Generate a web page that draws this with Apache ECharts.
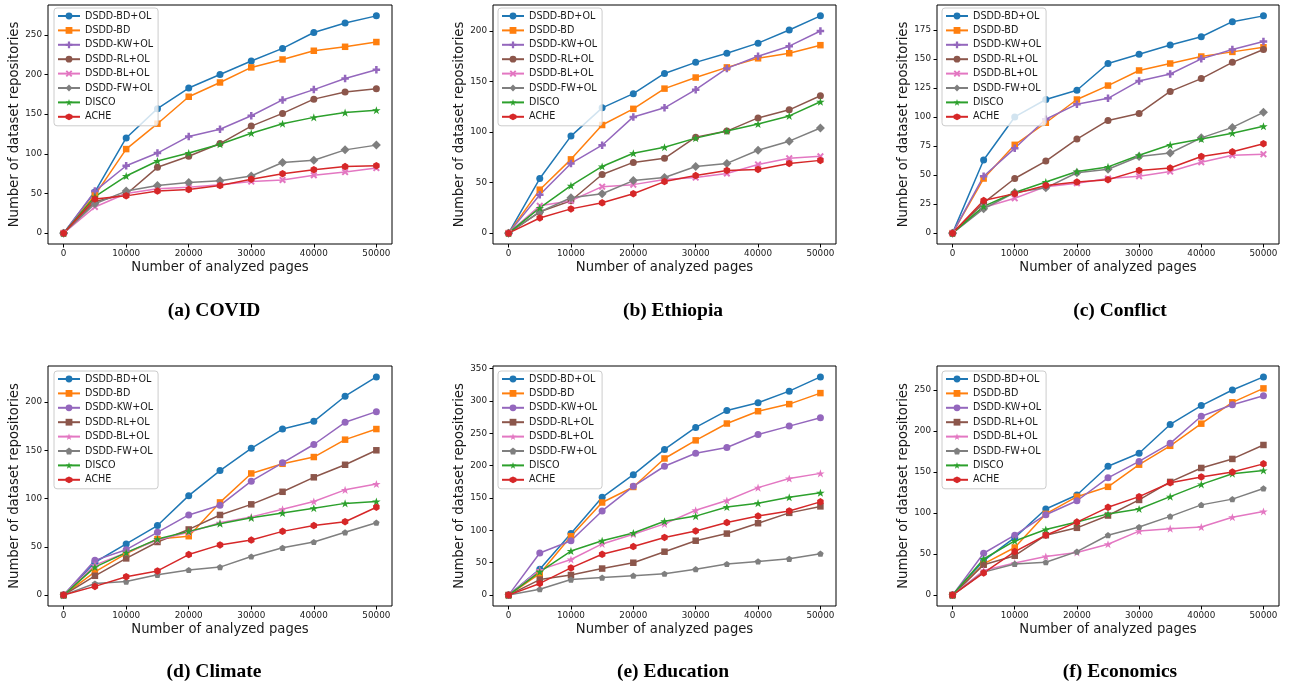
<!DOCTYPE html>
<html>
<head>
<meta charset="utf-8">
<script src="https://cdn.jsdelivr.net/npm/echarts@6/dist/echarts.min.js"></script>
<style>
html,body{margin:0;padding:0;background:#fff;}
#chart{width:1289px;height:689px;}
</style>
</head>
<body>
<div id="chart"></div>
<script>
// ---------- data ----------
const PAGES = [0, 5000, 10000, 15000, 20000, 25000, 30000, 35000, 40000, 45000, 50000];
const X_TICKS = [0, 10000, 20000, 30000, 40000, 50000];
const SERIES_NAMES = ['DSDD-BD+OL', 'DSDD-BD', 'DSDD-KW+OL', 'DSDD-RL+OL', 'DSDD-BL+OL', 'DSDD-FW+OL', 'DISCO', 'ACHE'];
const PANEL_TITLES = ['(a) COVID', '(b) Ethiopia', '(c) Conflict', '(d) Climate', '(e) Education', '(f) Economics'];
const X_NAME = 'Number of analyzed pages';
const Y_NAME = 'Number of dataset repositories';

// (a) COVID
const COVID_BD_OL = [0, 52, 120, 157, 183, 200, 217, 233, 253, 265, 274];
const COVID_BD    = [0, 48, 106, 138, 172, 190, 209, 219, 230, 235, 241];
const COVID_KW_OL = [0, 53, 85, 101, 122, 131, 148, 168, 181, 195, 206];
const COVID_RL_OL = [0, 40, 49, 83, 97, 113, 135, 151, 169, 178, 182];
const COVID_BL_OL = [0, 33, 50, 56, 58, 61, 65, 67, 73, 77, 82];
const COVID_FW_OL = [0, 37, 53, 60, 64, 66, 72, 89, 92, 105, 111];
const COVID_DISCO = [0, 46, 72, 91, 101, 112, 126, 138, 146, 152, 155];
const COVID_ACHE  = [0, 43, 47, 53, 55, 60, 68, 75, 80, 84, 85];
const COVID_Y_TICKS = [0, 50, 100, 150, 200, 250];

// (b) Ethiopia
const ETHIOPIA_BD_OL = [0, 54, 96, 124, 138, 158, 169, 178, 188, 201, 215];
const ETHIOPIA_BD    = [0, 43, 73, 107, 123, 143, 154, 164, 173, 178, 186];
const ETHIOPIA_KW_OL = [0, 38, 69, 87, 115, 124, 142, 163, 175, 185, 200];
const ETHIOPIA_RL_OL = [0, 21, 32, 58, 70, 74, 95, 101, 114, 122, 136];
const ETHIOPIA_BL_OL = [0, 27, 32, 46, 48, 53, 55, 59, 68, 74, 76];
const ETHIOPIA_FW_OL = [0, 21, 35, 39, 52, 55, 66, 69, 82, 91, 104];
const ETHIOPIA_DISCO = [0, 25, 47, 66, 79, 85, 94, 101, 108, 116, 130];
const ETHIOPIA_ACHE  = [0, 15, 24, 30, 39, 51, 57, 62, 63, 69, 72];
const ETHIOPIA_Y_TICKS = [0, 50, 100, 150, 200];

// (c) Conflict
const CONFLICT_BD_OL = [0, 63, 100, 115, 123, 146, 154, 162, 169, 182, 187];
const CONFLICT_BD    = [0, 47, 76, 95, 115, 127, 140, 146, 152, 156, 160];
const CONFLICT_KW_OL = [0, 49, 73, 98, 111, 116, 131, 137, 150, 158, 165];
const CONFLICT_RL_OL = [0, 26, 47, 62, 81, 97, 103, 122, 133, 147, 158];
const CONFLICT_BL_OL = [0, 22, 30, 40, 43, 47, 49, 53, 61, 67, 68];
const CONFLICT_FW_OL = [0, 21, 35, 39, 52, 55, 66, 69, 82, 91, 104];
const CONFLICT_DISCO = [0, 23, 35, 44, 53, 57, 67, 76, 81, 86, 92];
const CONFLICT_ACHE  = [0, 28, 34, 41, 44, 46, 54, 56, 66, 70, 77];
const CONFLICT_Y_TICKS = [0, 25, 50, 75, 100, 125, 150, 175];

// (d) Climate
const CLIMATE_BD_OL = [0, 34, 53, 72, 103, 129, 152, 172, 180, 206, 226];
const CLIMATE_BD    = [0, 24, 43, 58, 61, 96, 126, 136, 143, 161, 172];
const CLIMATE_KW_OL = [0, 36, 47, 65, 83, 93, 118, 137, 156, 179, 190];
const CLIMATE_RL_OL = [0, 20, 38, 55, 68, 83, 94, 107, 122, 135, 150];
const CLIMATE_BL_OL = [0, 31, 44, 57, 65, 75, 81, 89, 97, 109, 115];
const CLIMATE_FW_OL = [0, 12, 14, 21, 26, 29, 40, 49, 55, 65, 75];
const CLIMATE_DISCO = [0, 29, 44, 58, 66, 74, 80, 85, 90, 95, 97];
const CLIMATE_ACHE  = [0, 9, 19, 25, 42, 52, 57, 66, 72, 76, 91];
const CLIMATE_Y_TICKS = [0, 50, 100, 150, 200];

// (e) Education
const EDUCATION_BD_OL = [0, 40, 95, 151, 186, 225, 259, 285, 297, 315, 337];
const EDUCATION_BD    = [0, 33, 91, 143, 167, 211, 239, 265, 284, 295, 312];
const EDUCATION_KW_OL = [0, 65, 84, 130, 168, 199, 219, 228, 248, 261, 274];
const EDUCATION_RL_OL = [0, 24, 31, 41, 50, 67, 84, 95, 111, 127, 137];
const EDUCATION_BL_OL = [0, 39, 55, 79, 94, 110, 131, 146, 166, 180, 188];
const EDUCATION_FW_OL = [0, 9, 24, 27, 30, 33, 40, 48, 52, 56, 64];
const EDUCATION_DISCO = [0, 36, 68, 84, 96, 114, 122, 136, 142, 151, 158];
const EDUCATION_ACHE  = [0, 18, 42, 63, 75, 89, 99, 112, 122, 130, 144];
const EDUCATION_Y_TICKS = [0, 50, 100, 150, 200, 250, 300, 350];

// (f) Economics
const ECONOMICS_BD_OL = [0, 42, 70, 105, 122, 157, 173, 208, 231, 250, 266];
const ECONOMICS_BD    = [0, 38, 58, 99, 120, 132, 159, 182, 209, 235, 252];
const ECONOMICS_KW_OL = [0, 51, 73, 98, 115, 143, 163, 185, 218, 232, 243];
const ECONOMICS_RL_OL = [0, 37, 48, 73, 82, 97, 116, 138, 155, 166, 183];
const ECONOMICS_BL_OL = [0, 30, 39, 47, 52, 62, 78, 81, 83, 95, 102];
const ECONOMICS_FW_OL = [0, 28, 38, 40, 53, 73, 83, 96, 110, 117, 130];
const ECONOMICS_DISCO = [0, 44, 66, 80, 89, 99, 105, 120, 135, 148, 152];
const ECONOMICS_ACHE  = [0, 27, 53, 73, 89, 107, 120, 137, 144, 150, 160];
const ECONOMICS_Y_TICKS = [0, 50, 100, 150, 200, 250];

// ---------- styles ----------
const COLORS = ['#1f77b4', '#ff7f0e', '#9467bd', '#8c564b', '#e377c2', '#7f7f7f', '#2ca02c', '#d62728'];
const PLUS = 'path://M1,0 L2,0 L2,1 L3,1 L3,2 L2,2 L2,3 L1,3 L1,2 L0,2 L0,1 L1,1 Z';
const XMARK = 'path://M0,2 L2,0 L5,3 L8,0 L10,2 L7,5 L10,8 L8,10 L5,7 L2,10 L0,8 L3,5 Z';
const STAR = 'path://M1,0 L1.2245,0.691 L1.951,0.691 L1.363,1.118 L1.588,1.809 L1,1.382 L0.412,1.809 L0.637,1.118 L0.049,0.691 L0.7755,0.691 Z';
const HEX = 'path://M0.866,0 L1.732,0.5 L1.732,1.5 L0.866,2 L0,1.5 L0,0.5 Z';
const PENT = 'path://M0.951,0 L1.902,0.691 L1.539,1.809 L0.363,1.809 L0,0.691 Z';
const MARKERS_ROW1 = ['circle', 'rect', PLUS, 'circle', XMARK, 'diamond', STAR, HEX];
const SIZES_ROW1 = [7, 6.5, 7.5, 7, 7, 9, 8.5, 7.5];
const MARKERS_ROW2 = ['circle', 'rect', 'circle', 'rect', STAR, PENT, STAR, HEX];
const SIZES_ROW2 = [7, 6.5, 7, 6.5, 8.5, 6.5, 8.5, 7.5];

const PANELS = [
  { data: [COVID_BD_OL, COVID_BD, COVID_KW_OL, COVID_RL_OL, COVID_BL_OL, COVID_FW_OL, COVID_DISCO, COVID_ACHE], yTicks: COVID_Y_TICKS, row: 0, col: 0 },
  { data: [ETHIOPIA_BD_OL, ETHIOPIA_BD, ETHIOPIA_KW_OL, ETHIOPIA_RL_OL, ETHIOPIA_BL_OL, ETHIOPIA_FW_OL, ETHIOPIA_DISCO, ETHIOPIA_ACHE], yTicks: ETHIOPIA_Y_TICKS, row: 0, col: 1 },
  { data: [CONFLICT_BD_OL, CONFLICT_BD, CONFLICT_KW_OL, CONFLICT_RL_OL, CONFLICT_BL_OL, CONFLICT_FW_OL, CONFLICT_DISCO, CONFLICT_ACHE], yTicks: CONFLICT_Y_TICKS, row: 0, col: 2 },
  { data: [CLIMATE_BD_OL, CLIMATE_BD, CLIMATE_KW_OL, CLIMATE_RL_OL, CLIMATE_BL_OL, CLIMATE_FW_OL, CLIMATE_DISCO, CLIMATE_ACHE], yTicks: CLIMATE_Y_TICKS, row: 1, col: 0 },
  { data: [EDUCATION_BD_OL, EDUCATION_BD, EDUCATION_KW_OL, EDUCATION_RL_OL, EDUCATION_BL_OL, EDUCATION_FW_OL, EDUCATION_DISCO, EDUCATION_ACHE], yTicks: EDUCATION_Y_TICKS, row: 1, col: 1 },
  { data: [ECONOMICS_BD_OL, ECONOMICS_BD, ECONOMICS_KW_OL, ECONOMICS_RL_OL, ECONOMICS_BL_OL, ECONOMICS_FW_OL, ECONOMICS_DISCO, ECONOMICS_ACHE], yTicks: ECONOMICS_Y_TICKS, row: 1, col: 2 }
];

// layout
const GRID_LEFT = [48, 493, 937];
const GRID_WIDTH = [344, 343, 342];
const GRID_TOP = [5, 366];
const GRID_HEIGHT = [239, 240];
const LEGEND_LEFT = [54, 498, 942];
const LEGEND_TOP = [8, 371];
const TITLE_X = [214, 673, 1120];
const TITLE_Y = [311, 672];

const SANS = 'DejaVu Sans';
const TXT = '#1a1a1a';
const plain = v => String(v);

const grid = [], xAxis = [], yAxis = [], series = [], legend = [], graphic = [];

PANELS.forEach((p, i) => {
  const r = p.row, c = p.col;
  grid.push({
    left: GRID_LEFT[c], top: GRID_TOP[r], width: GRID_WIDTH[c], height: GRID_HEIGHT[r],
    show: true, borderColor: '#000', borderWidth: 1, backgroundColor: 'transparent', containLabel: false
  });
  const xMax = PAGES[PAGES.length - 1];
  xAxis.push({
    type: 'value', gridIndex: i, position: 'bottom',
    min: -0.05 * xMax, max: 1.05 * xMax,
    name: X_NAME, nameLocation: 'middle', nameGap: 17,
    nameTextStyle: { fontFamily: SANS, fontSize: 13.2, color: TXT },
    axisLine: { show: false, onZero: false },
    axisTick: { show: true, inside: false, length: 3.5, customValues: X_TICKS, lineStyle: { color: '#000', width: 1 } },
    axisLabel: { show: true, customValues: X_TICKS, formatter: plain, margin: 5.5, fontFamily: SANS, fontSize: 8.8, color: TXT },
    splitLine: { show: false }
  });
  let yMax = 0;
  p.data.forEach(arr => arr.forEach(v => { if (v > yMax) yMax = v; }));
  yAxis.push({
    type: 'value', gridIndex: i, position: 'left',
    min: -0.05 * yMax, max: 1.05 * yMax,
    name: Y_NAME, nameLocation: 'middle', nameGap: 24,
    nameTextStyle: { fontFamily: SANS, fontSize: 13.2, color: TXT },
    axisLine: { show: false, onZero: false },
    axisTick: { show: true, inside: false, length: 3.5, customValues: p.yTicks, lineStyle: { color: '#000', width: 1 } },
    axisLabel: { show: true, customValues: p.yTicks, formatter: plain, margin: 6, fontFamily: SANS, fontSize: 8.8, color: TXT },
    splitLine: { show: false }
  });
  const markers = r === 0 ? MARKERS_ROW1 : MARKERS_ROW2;
  const sizes = r === 0 ? SIZES_ROW1 : SIZES_ROW2;
  const names = [];
  SERIES_NAMES.forEach((nm, k) => {
    const sname = i + '|' + nm;
    names.push(sname);
    series.push({
      type: 'line', name: sname, xAxisIndex: i, yAxisIndex: i,
      data: PAGES.map((x, j) => [x, p.data[k][j]]),
      symbol: markers[k], symbolSize: sizes[k], symbolKeepAspect: true, showSymbol: true,
      color: COLORS[k],
      lineStyle: { color: COLORS[k], width: 1.5 },
      itemStyle: { color: COLORS[k], borderWidth: 0 },
      animation: false, silent: true, clip: false
    });
  });
  legend.push({
    data: names, orient: 'vertical', left: LEGEND_LEFT[c], top: LEGEND_TOP[r],
    padding: [2, 5, 3, 3], itemGap: 2.4, itemWidth: 22, itemHeight: 8.5,
    backgroundColor: 'rgba(255,255,255,0.8)', borderColor: '#cccccc', borderWidth: 1, borderRadius: 3,
    textStyle: { fontFamily: SANS, fontSize: 9.6, color: TXT, lineHeight: 12 },
    formatter: n => n.split('|')[1],
    selectedMode: false
  });
  graphic.push({
    type: 'text', x: TITLE_X[c], y: TITLE_Y[r],
    style: { text: PANEL_TITLES[i], fontFamily: 'Liberation Serif', fontWeight: 'bold', fontSize: 19.5, fill: '#000', textAlign: 'center', textVerticalAlign: 'middle' }
  });
});

const chart = echarts.init(document.getElementById('chart'), null, { renderer: 'canvas' });
chart.setOption({ animation: false, backgroundColor: '#fff', grid, xAxis, yAxis, series, legend, graphic });
</script>
</body>
</html>
